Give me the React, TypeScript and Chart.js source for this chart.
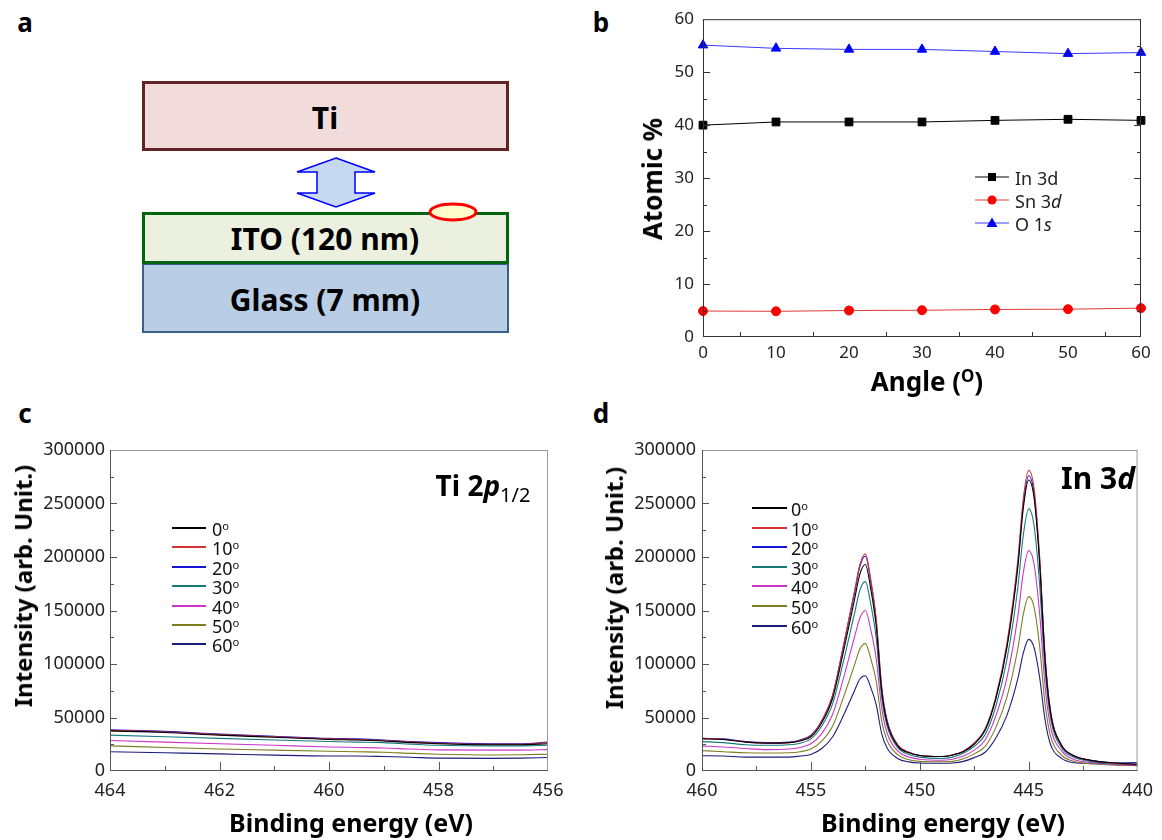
import React, { useEffect, useRef } from "react";
import { Chart, registerables } from "chart.js";
Chart.register(...registerables);

const FONT = "'Noto Sans', 'DejaVu Sans', sans-serif";

// ---------- Panel b data ----------
const angles = [0, 10, 20, 30, 40, 50, 60];
const in3d = [40.0, 40.6, 40.6, 40.6, 40.9, 41.1, 40.9];
const sn3d = [4.9, 4.85, 5.0, 5.05, 5.2, 5.25, 5.45];
const o1s = [55.1, 54.5, 54.3, 54.3, 53.9, 53.5, 53.7];
const bLegend = ["In 3d", "Sn 3d", "O 1s"];

// ---------- Panel c data (Ti 2p1/2) ----------
const energiesC = [464, 463, 462, 461, 460, 459.5, 459, 458.5, 458, 457, 456.5, 456];
const ti0 = [37500, 36000, 33500, 31500, 29500, 29000, 28000, 26500, 25500, 24500, 24500, 25500];
const ti10 = [38000, 36500, 34000, 32000, 30000, 29500, 28500, 27000, 26000, 25000, 25000, 26500];
const ti20 = [38500, 37000, 34500, 32500, 30500, 30000, 29000, 27500, 26500, 25500, 25500, 27000];
const ti30 = [33500, 32000, 30500, 29000, 27500, 27000, 26500, 25000, 24000, 23500, 23500, 24000];
const ti40 = [28500, 27000, 25500, 24000, 22500, 22000, 21500, 20500, 19700, 19500, 19500, 20000];
const ti50 = [23500, 22000, 20500, 19500, 18500, 18000, 17500, 16500, 15700, 15000, 15200, 15700];
const ti60 = [18000, 17000, 16000, 14800, 14000, 14000, 13500, 12800, 12000, 11800, 12000, 12600];

// ---------- Panel d data (In 3d) ----------
const energiesD = [460, 459, 458, 457, 456, 455.5, 455, 454.5, 454, 453.5, 453, 452.75, 452.5, 452.25, 452, 451.75, 451.5, 451, 450.5, 450, 449, 448.5, 448, 447.5, 447, 446.5, 446, 445.5, 445.25, 445, 444.75, 444.5, 444.25, 444, 443.5, 443, 442, 441, 440];
const in0 = [30000, 29500, 27000, 26000, 26500, 28000, 32000, 45000, 68000, 112000, 160000, 184000, 193000, 170000, 135000, 75000, 45000, 23000, 17000, 14500, 13500, 15000, 18000, 25000, 38000, 68000, 115000, 190000, 245000, 272000, 255000, 195000, 105000, 55000, 24000, 15000, 9500, 7500, 6000];
const in10 = [30500, 29500, 27000, 26000, 26500, 28500, 33000, 47000, 71000, 118000, 168000, 193000, 203000, 179000, 142000, 79000, 47000, 24000, 17500, 14500, 13500, 15000, 18500, 26000, 39000, 70000, 119000, 197000, 254000, 281000, 264000, 202000, 109000, 57000, 24500, 15000, 9500, 7000, 5500];
const in20 = [30500, 30000, 27500, 26500, 27000, 29000, 33500, 47000, 71000, 117000, 166000, 191000, 201000, 177000, 140000, 78000, 47000, 24000, 17500, 14500, 13500, 15000, 18500, 26000, 39000, 69000, 117000, 193000, 249000, 276000, 259000, 198000, 107000, 56000, 24500, 15000, 9500, 7500, 6500];
const in30 = [27500, 26500, 24500, 24000, 24500, 26000, 30000, 42000, 63000, 103000, 147000, 169000, 177000, 156000, 124000, 69000, 42000, 21500, 15500, 13000, 11700, 13000, 16500, 23000, 34000, 61000, 104000, 171000, 220000, 245000, 229000, 175000, 95000, 50000, 22000, 13500, 8500, 6500, 5500];
const in40 = [23500, 22500, 21000, 20000, 20500, 22000, 25500, 35000, 53000, 87000, 125000, 143000, 150000, 132000, 105000, 59000, 35500, 18500, 13000, 11000, 10000, 11000, 14000, 19500, 29000, 52000, 87000, 144000, 185000, 206000, 193000, 148000, 80000, 42000, 19000, 11500, 7500, 6000, 5000];
const in50 = [19000, 18000, 17000, 16800, 17000, 18000, 20500, 28000, 42000, 69000, 99000, 114000, 119000, 105000, 84000, 47000, 28500, 15000, 10500, 9000, 8600, 9000, 11500, 16000, 23000, 41000, 69000, 114000, 146000, 163000, 153000, 117000, 63000, 33000, 15000, 9500, 6500, 5500, 5000];
const in60 = [14300, 14000, 13000, 13000, 13000, 14000, 15500, 21000, 32000, 52000, 75000, 86000, 89000, 78000, 62000, 35000, 21500, 11500, 8500, 7500, 7200, 7500, 9000, 12500, 17500, 31000, 52000, 86000, 110000, 123000, 115000, 88000, 48000, 25000, 12000, 8000, 7000, 7500, 8000];

const angleLabels = ["0", "10", "20", "30", "40", "50", "60"];
const tiSeries = [ti0, ti10, ti20, ti30, ti40, ti50, ti60];
const inSeries = [in0, in10, in20, in30, in40, in50, in60];

// tick value lists
const bXMinor = [5, 15, 25, 35, 45, 55];
const bYMajor = [10, 20, 30, 40, 50];
const bYMinor = [5, 15, 25, 35, 45, 55];
const cXMajor = [458, 460, 462];
const cXMinor = [457, 459, 461, 463];
const dXMajor = [445, 450, 455];
const dXMinor = [442.5, 447.5, 452.5, 457.5];
const iYMajor = [50000, 100000, 150000, 200000, 250000];
const iYMinor = [25000, 75000, 125000, 175000, 225000, 275000];

// styles (kept separate from data)
const angleColors = ["#000000", "#d43232", "#1414d2", "#167a7a", "#cc36cc", "#7e7e20", "#1c1c7c"];

const frameTicks = {
  id: "frameTicks",
  afterDatasetsDraw(chart: any, _a: any, opts: any) {
    const { ctx, chartArea: a, scales } = chart;
    ctx.save();
    ctx.lineWidth = 1;
    ctx.strokeStyle = opts.farColor;
    ctx.beginPath();
    ctx.moveTo(a.left, a.top + 0.5);
    ctx.lineTo(a.right, a.top + 0.5);
    ctx.moveTo(a.right - 0.5, a.top);
    ctx.lineTo(a.right - 0.5, a.bottom);
    ctx.stroke();
    ctx.strokeStyle = opts.nearColor;
    ctx.beginPath();
    ctx.moveTo(a.left + 0.5, a.top);
    ctx.lineTo(a.left + 0.5, a.bottom);
    ctx.moveTo(a.left, a.bottom - 0.5);
    ctx.lineTo(a.right, a.bottom - 0.5);
    (opts.x || []).forEach((t: any) => {
      const px = Math.round(scales.x.getPixelForValue(t.v)) + 0.5;
      ctx.moveTo(px, a.bottom);
      ctx.lineTo(px, a.bottom - t.len);
    });
    (opts.y || []).forEach((t: any) => {
      const py = Math.round(scales.y.getPixelForValue(t.v)) + 0.5;
      ctx.moveTo(a.left, py);
      ctx.lineTo(a.left + t.len, py);
      if (opts.mirrorY) {
        ctx.moveTo(a.right, py);
        ctx.lineTo(a.right - t.len, py);
      }
    });
    ctx.stroke();
    ctx.restore();
  },
};

const mk = (vals: number[], len: number) => vals.map((v) => ({ v, len }));

function T({ x, y, children, size = 24, bold = true, rot = 0, anchor = "center", color = "#000" }: any) {
  const tx = anchor === "center" ? "-50%" : anchor === "left" ? "0" : "-100%";
  return (
    <div
      style={{
        position: "absolute",
        left: x,
        top: y,
        transform: `translate(${tx},-50%) rotate(${rot}deg)`,
        fontSize: size,
        fontWeight: bold ? 700 : 400,
        lineHeight: 1,
        whiteSpace: "nowrap",
        color,
        fontFamily: FONT,
      }}
    >
      {children}
    </div>
  );
}

const Deg = () => (
  <span style={{ fontSize: "0.62em", verticalAlign: "0.5em" }}>o</span>
);

function spectrumOptions(p: any) {
  return {
    responsive: false,
    animation: false,
    events: [],
    layout: { padding: { top: p.padTop, right: p.padRight, left: 0, bottom: 0 } },
    plugins: {
      legend: { display: false },
      tooltip: { enabled: false },
      frameTicks: {
        nearColor: "#555",
        farColor: "#999",
        x: [...mk(p.xMajor, 9), ...mk(p.xMinor, 5)],
        y: [...mk(iYMajor, 7), ...mk(iYMinor, 4)],
        mirrorY: false,
      },
    },
    scales: {
      x: {
        type: "linear",
        reverse: true,
        min: p.xMin,
        max: p.xMax,
        ticks: { stepSize: p.xStep, padding: 9, color: "#222", font: { size: 18, family: FONT } },
        grid: { display: false, drawTicks: false },
        border: { display: false },
        afterFit: (s: any) => { s.height = p.xHeight; },
      },
      y: {
        min: 0,
        max: 300000,
        ticks: { stepSize: 50000, padding: p.yPad, color: "#222", font: { size: 18, family: FONT }, callback: (v: any) => String(v) },
        grid: { display: false, drawTicks: false },
        border: { display: false },
        afterFit: (s: any) => { s.width = p.yWidth; },
      },
    },
  };
}

export default function App() {
  const bRef = useRef<HTMLCanvasElement>(null);
  const cRef = useRef<HTMLCanvasElement>(null);
  const dRef = useRef<HTMLCanvasElement>(null);

  useEffect(() => {
    const pts = (xs: number[], ys: number[]) => xs.map((x, i) => ({ x, y: ys[i] }));
    const bChart = new Chart(bRef.current as HTMLCanvasElement, {
      type: "line",
      data: {
        datasets: [
          { label: bLegend[0], data: pts(angles, in3d), borderColor: "#000", backgroundColor: "#000", pointStyle: "rect", pointRadius: 5.5, borderWidth: 1, clip: false },
          { label: bLegend[1], data: pts(angles, sn3d), borderColor: "#e03a3a", backgroundColor: "#ff0000", pointBorderColor: "#ff0000", pointStyle: "circle", pointRadius: 4.5, borderWidth: 1, clip: false },
          { label: bLegend[2], data: pts(angles, o1s), borderColor: "#3a3aff", backgroundColor: "#0000ff", pointBorderColor: "#0000ff", pointStyle: "triangle", pointRadius: 5.5, borderWidth: 1, clip: false },
        ],
      } as any,
      options: {
        responsive: false,
        animation: false,
        events: [],
        layout: { padding: { top: 14, right: 21, left: 0, bottom: 0 } },
        plugins: {
          legend: { display: false },
          tooltip: { enabled: false },
          frameTicks: {
            nearColor: "#333",
            farColor: "#333",
            x: mk(bXMinor, 5),
            y: [...mk(bYMajor, 7), ...mk(bYMinor, 4)],
            mirrorY: true,
          },
        },
        scales: {
          x: {
            type: "linear",
            min: 0,
            max: 60,
            ticks: { stepSize: 10, padding: 6, color: "#222", font: { size: 17, family: FONT } },
            grid: { display: false, drawTicks: false },
            border: { display: false },
            afterFit: (s: any) => { s.height = 63; },
          },
          y: {
            min: 0,
            max: 60,
            ticks: { stepSize: 10, padding: 9, color: "#222", font: { size: 17, family: FONT } },
            grid: { display: false, drawTicks: false },
            border: { display: false },
            afterFit: (s: any) => { s.width = 103; },
          },
        },
      } as any,
      plugins: [frameTicks as any],
    });

    const lineSets = (xs: number[], series: number[][]) =>
      series.map((ys, i) => ({
        label: angleLabels[i],
        data: pts(xs, ys),
        borderColor: angleColors[i],
        borderWidth: 1.1,
        pointRadius: 0,
        cubicInterpolationMode: "monotone",
      }));

    const cChart = new Chart(cRef.current as HTMLCanvasElement, {
      type: "line",
      data: { datasets: lineSets(energiesC, tiSeries) } as any,
      options: spectrumOptions({ padTop: 20, padRight: 32, xMin: 456, xMax: 464, xStep: 2, xHeight: 69, yWidth: 80, yPad: 5, xMajor: cXMajor, xMinor: cXMinor }) as any,
      plugins: [frameTicks as any],
    });

    const dChart = new Chart(dRef.current as HTMLCanvasElement, {
      type: "line",
      data: { datasets: lineSets(energiesD, inSeries) } as any,
      options: spectrumOptions({ padTop: 20, padRight: 21, xMin: 440, xMax: 460, xStep: 5, xHeight: 69, yWidth: 82, yPad: 6, xMajor: dXMajor, xMinor: dXMinor }) as any,
      plugins: [frameTicks as any],
    });

    return () => {
      bChart.destroy();
      cChart.destroy();
      dChart.destroy();
    };
  }, []);

  const bColors = ["#000000", "#e03a3a", "#3a3aff"];
  const bMarker = (i: number) => {
    if (i === 0) return <rect x={13} y={2} width={8} height={8} fill="#000" />;
    if (i === 1) return <circle cx={17} cy={6} r={4.5} fill="#ff0000" />;
    return <polygon points="17,0.5 22.5,10 11.5,10" fill="#0000ff" />;
  };

  return (
    <div style={{ position: "relative", width: 1162, height: 840, overflow: "hidden", background: "#fff", fontFamily: FONT }}>
      <style>{`body{margin:0;}`}</style>

      {/* Panel a: schematic */}
      <svg width={600} height={400} style={{ position: "absolute", left: 0, top: 0 }}>
        <rect x={143.5} y={82.5} width={364} height={67} fill="#f2dcdb" stroke="#632523" strokeWidth={3} />
        <text x={325} y={117} textAnchor="middle" dominantBaseline="central" fontWeight={700} fontSize={30} fontFamily={FONT}>Ti</text>
        <polygon
          points="336,158 375,172 355,172 355,193 375,193 336,207 297,193 317,193 317,172 297,172"
          fill="#c6d9f1"
          stroke="#0000ff"
          strokeWidth={1.5}
        />
        <rect x={143} y={264} width={365} height={68} fill="#b9cde5" stroke="#3a5f8b" strokeWidth={2} />
        <text x={325} y={299} textAnchor="middle" dominantBaseline="central" fontWeight={700} fontSize={30} fontFamily={FONT}>Glass (7 mm)</text>
        <rect x={143.5} y={213.5} width={364} height={49} fill="#ebf1de" stroke="#006410" strokeWidth={3} />
        <text x={325} y={238} textAnchor="middle" dominantBaseline="central" fontWeight={700} fontSize={30} fontFamily={FONT}>ITO (120 nm)</text>
        <ellipse cx={453} cy={212} rx={23} ry={8} fill="#ffffcc" stroke="#ff0000" strokeWidth={3} />
      </svg>

      {/* panel letters */}
      <T x={25} y={22} size={26}>a</T>
      <T x={601} y={22} size={26}>b</T>
      <T x={25} y={413} size={26}>c</T>
      <T x={601} y={413} size={26}>d</T>

      <canvas ref={bRef} width={562} height={400} style={{ position: "absolute", left: 600, top: 0, width: 562, height: 400 }} />
      <canvas ref={cRef} width={550} height={410} style={{ position: "absolute", left: 30, top: 430, width: 550, height: 410 }} />
      <canvas ref={dRef} width={542} height={410} style={{ position: "absolute", left: 620, top: 430, width: 542, height: 410 }} />

      {/* Panel b axis titles */}
      <T x={652} y={179} size={26} rot={-90}>Atomic %</T>
      <T x={927} y={381} size={26}>
        Angle (<span style={{ fontSize: "0.65em", verticalAlign: "0.55em" }}>O</span>)
      </T>
      {/* Panel b legend */}
      {bLegend.map((lab, i) => (
        <React.Fragment key={lab}>
          <svg width={34} height={12} style={{ position: "absolute", left: 975, top: 177 + i * 23 - 6 }}>
            <line x1={0} y1={6} x2={34} y2={6} stroke={bColors[i]} strokeWidth={1.2} />
            {bMarker(i)}
          </svg>
          <T x={1015} y={178 + i * 23} size={18} bold={false} anchor="left" color="#222">
            {i === 0 ? "In 3d" : i === 1 ? <>Sn 3<i>d</i></> : <>O 1<i>s</i></>}
          </T>
        </React.Fragment>
      ))}

      {/* Panel c titles */}
      <T x={23} y={586} size={24} rot={-90}>Intensity (arb. Unit.)</T>
      <T x={351} y={822} size={25}>Binding energy (eV)</T>
      <T x={483} y={488} size={28}>
        Ti 2<i>p</i><span style={{ fontSize: 20, fontWeight: 400, verticalAlign: "-0.3em" }}>1/2</span>
      </T>
      {angleLabels.map((lab, i) => (
        <React.Fragment key={"c" + lab}>
          <div style={{ position: "absolute", left: 172, top: 528 + i * 19.4 - 1, width: 34, height: 2, background: angleColors[i] }} />
          <T x={212} y={529 + i * 19.4} size={18} bold={false} anchor="left" color="#111">
            {lab}<Deg />
          </T>
        </React.Fragment>
      ))}

      {/* Panel d titles */}
      <T x={614} y={588} size={24} rot={-90}>Intensity (arb. Unit.)</T>
      <T x={943} y={822} size={25}>Binding energy (eV)</T>
      <T x={1098} y={478} size={30}>
        In 3<i>d</i>
      </T>
      {angleLabels.map((lab, i) => (
        <React.Fragment key={"d" + lab}>
          <div style={{ position: "absolute", left: 752, top: 508 + i * 19.6 - 1, width: 35, height: 2, background: angleColors[i] }} />
          <T x={791} y={509 + i * 19.6} size={18} bold={false} anchor="left" color="#111">
            {lab}<Deg />
          </T>
        </React.Fragment>
      ))}
    </div>
  );
}
